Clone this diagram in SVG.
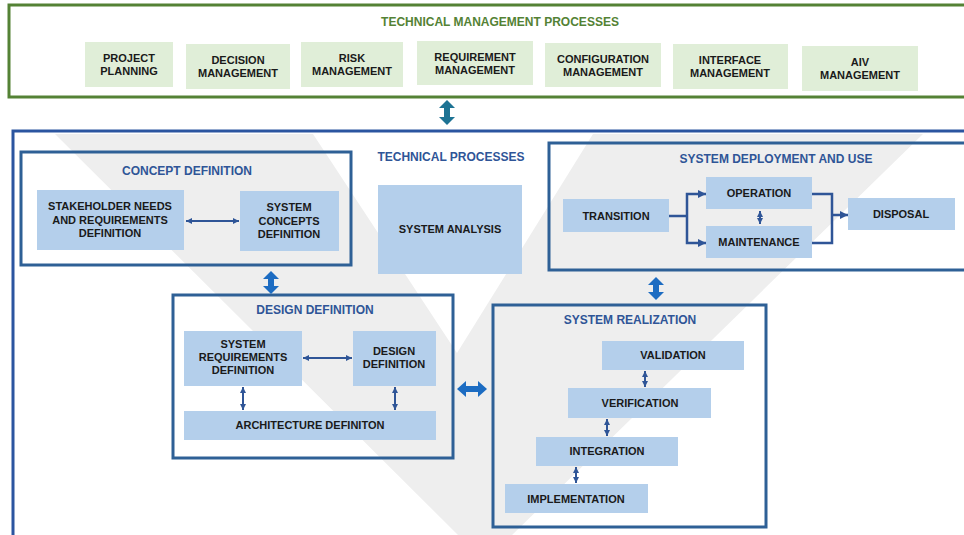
<svg xmlns="http://www.w3.org/2000/svg" width="964" height="535" viewBox="0 0 964 535">
<style>
.t{font-family:"Liberation Sans",Arial,sans-serif;font-weight:bold;font-size:11px;fill:#1a1a1a;text-anchor:middle}
.tt{font-family:"Liberation Sans",Arial,sans-serif;font-weight:bold;font-size:12px;fill:#2f5597;text-anchor:middle}
.gt{font-family:"Liberation Sans",Arial,sans-serif;font-weight:bold;font-size:12px;fill:#548235;text-anchor:middle}
.gb{fill:#e0eed8}
.bb{fill:#b4cfeb}
.fr{fill:none;stroke:#2e6096;stroke-width:3}
.ln{fill:none;stroke:#2f5597;stroke-width:2}
.cn{fill:none;stroke:#2f5597;stroke-width:2.5}
.blk{fill:#1c6cc2}
</style>
<defs>
<marker id="ah" viewBox="0 0 10 10" refX="10" refY="5" markerUnits="userSpaceOnUse" markerWidth="6" markerHeight="6" orient="auto-start-reverse"><path d="M0,0 L10,5 L0,10 z" fill="#2f5597"/></marker>
<marker id="ahb" viewBox="0 0 10 10" refX="10" refY="5" markerUnits="userSpaceOnUse" markerWidth="8" markerHeight="8" orient="auto-start-reverse"><path d="M0,0 L10,5 L0,10 z" fill="#2f5597"/></marker>
</defs>
<rect width="964" height="535" fill="#ffffff"/>

<g id="technical-management">
<rect x="9" y="5" width="970" height="92" fill="#ffffff" stroke="#548235" stroke-width="3"/>
<text class="gt" x="500" y="26">TECHNICAL MANAGEMENT PROCESSES</text>
</g>
<g id="project-planning"><rect class="gb" x="85" y="42" width="88" height="45"/><text class="t" x="129" y="62">PROJECT</text><text class="t" x="129" y="75">PLANNING</text></g>
<g id="decision-management"><rect class="gb" x="186" y="44" width="104" height="45"/><text class="t" x="238" y="64">DECISION</text><text class="t" x="238" y="77">MANAGEMENT</text></g>
<g id="risk-management"><rect class="gb" x="301" y="42" width="102" height="45"/><text class="t" x="352" y="62">RISK</text><text class="t" x="352" y="75">MANAGEMENT</text></g>
<g id="requirement-management"><rect class="gb" x="417" y="41" width="116" height="44"/><text class="t" x="475" y="61">REQUIREMENT</text><text class="t" x="475" y="74">MANAGEMENT</text></g>
<g id="configuration-management"><rect class="gb" x="545" y="43" width="116" height="44"/><text class="t" x="603" y="63">CONFIGURATION</text><text class="t" x="603" y="76">MANAGEMENT</text></g>
<g id="interface-management"><rect class="gb" x="673" y="44" width="115" height="45"/><text class="t" x="730" y="64">INTERFACE</text><text class="t" x="730" y="77">MANAGEMENT</text></g>
<g id="aiv-management"><rect class="gb" x="802" y="46" width="116" height="45"/><text class="t" x="860" y="66">AIV</text><text class="t" x="860" y="79">MANAGEMENT</text></g>

<g id="technical-processes">
<rect x="13" y="131" width="970" height="440" fill="#ffffff" stroke="#2b55a0" stroke-width="3"/>
<polygon points="55,134 313,134 457,353 593,134 923,134 510,537 460,537" fill="#eeeeee"/>
<text class="tt" x="451" y="161">TECHNICAL PROCESSES</text>
</g>

<g id="concept-definition">
<rect class="fr" x="21" y="152" width="330" height="113"/>
<text class="tt" x="187" y="175">CONCEPT DEFINITION</text>
</g>
<g id="stakeholder-needs"><rect class="bb" x="37" y="190" width="147" height="60"/><text class="t" x="110" y="210">STAKEHOLDER NEEDS</text><text class="t" x="110" y="223.5">AND REQUIREMENTS</text><text class="t" x="110" y="237">DEFINITION</text></g>
<g id="system-concepts"><rect class="bb" x="240" y="191" width="99" height="60"/><text class="t" x="289" y="211">SYSTEM</text><text class="t" x="289" y="224.5">CONCEPTS</text><text class="t" x="289" y="238">DEFINITION</text></g>

<g id="system-analysis"><rect class="bb" x="378" y="185" width="144" height="89"/><text class="t" x="450" y="233">SYSTEM ANALYSIS</text></g>

<g id="system-deployment">
<rect class="fr" x="549" y="143" width="430" height="127"/>
<text class="tt" x="776" y="163">SYSTEM DEPLOYMENT AND USE</text>
</g>
<g id="transition"><rect class="bb" x="563" y="199" width="106" height="33"/><text class="t" x="616" y="219.5">TRANSITION</text></g>
<g id="operation"><rect class="bb" x="706" y="177" width="106" height="32"/><text class="t" x="759" y="197">OPERATION</text></g>
<g id="maintenance"><rect class="bb" x="706" y="226" width="106" height="32"/><text class="t" x="759" y="246">MAINTENANCE</text></g>
<g id="disposal"><rect class="bb" x="848" y="198" width="107" height="32"/><text class="t" x="901" y="218">DISPOSAL</text></g>

<g id="design-definition">
<rect class="fr" x="173" y="295" width="280" height="163"/>
<text class="tt" x="315" y="314">DESIGN DEFINITION</text>
</g>
<g id="system-requirements"><rect class="bb" x="184" y="331" width="118" height="55"/><text class="t" x="243" y="348">SYSTEM</text><text class="t" x="243" y="361">REQUIREMENTS</text><text class="t" x="243" y="374">DEFINITION</text></g>
<g id="design-definition-inner"><rect class="bb" x="353" y="331" width="83" height="55"/><text class="t" x="394" y="355">DESIGN</text><text class="t" x="394" y="368">DEFINITION</text></g>
<g id="architecture-definition"><rect class="bb" x="184" y="411" width="252" height="29"/><text class="t" x="310" y="429">ARCHITECTURE DEFINITON</text></g>

<g id="system-realization">
<rect class="fr" x="493" y="305" width="273" height="222"/>
<text class="tt" x="630" y="324">SYSTEM REALIZATION</text>
</g>
<g id="validation"><rect class="bb" x="602" y="341" width="142" height="29"/><text class="t" x="673" y="359">VALIDATION</text></g>
<g id="verification"><rect class="bb" x="568" y="388" width="143" height="30"/><text class="t" x="640" y="407">VERIFICATION</text></g>
<g id="integration"><rect class="bb" x="536" y="437" width="142" height="29"/><text class="t" x="607" y="455">INTEGRATION</text></g>
<g id="implementation"><rect class="bb" x="505" y="484" width="143" height="29"/><text class="t" x="576" y="503">IMPLEMENTATION</text></g>

<g id="connectors">
<path fill="#1d7394" d="M447,100 L455,108 L450,108 L450,117 L455,117 L447,125 L439,117 L444,117 L444,108 L439,108 Z"/>
<path class="blk" d="M271,271 L279,279 L274,279 L274,286 L279,286 L271,294 L263,286 L268,286 L268,279 L263,279 Z"/>
<path class="blk" d="M656,277 L664,285 L659,285 L659,292 L664,292 L656,300 L648,292 L653,292 L653,285 L648,285 Z"/>
<path class="blk" d="M457,389 L466,381 L466,386 L478,386 L478,381 L487,389 L478,397 L478,392 L466,392 L466,397 Z"/>
<line class="ln" x1="186" y1="221" x2="239" y2="221" marker-start="url(#ah)" marker-end="url(#ah)"/>
<line class="ln" x1="303" y1="358" x2="352" y2="358" marker-start="url(#ah)" marker-end="url(#ah)"/>
<line class="ln" x1="243" y1="387" x2="243" y2="410" marker-start="url(#ah)" marker-end="url(#ah)"/>
<line class="ln" x1="395" y1="387" x2="395" y2="410" marker-start="url(#ah)" marker-end="url(#ah)"/>
<line class="ln" x1="760" y1="211" x2="760" y2="224" marker-start="url(#ah)" marker-end="url(#ah)"/>
<line class="ln" x1="645" y1="371" x2="645" y2="387" marker-start="url(#ah)" marker-end="url(#ah)"/>
<line class="ln" x1="607" y1="419" x2="607" y2="436" marker-start="url(#ah)" marker-end="url(#ah)"/>
<line class="ln" x1="576" y1="467" x2="576" y2="483" marker-start="url(#ah)" marker-end="url(#ah)"/>
<polyline class="cn" points="669,216 687,216"/>
<polyline class="cn" points="706,194 687,194 687,243 706,243" marker-start="url(#ahb)" marker-end="url(#ahb)"/>
<polyline class="cn" points="812,194 832,194 832,243 812,243"/>
<line class="cn" x1="832" y1="215" x2="848" y2="215" marker-end="url(#ahb)"/>
</g>
</svg>
